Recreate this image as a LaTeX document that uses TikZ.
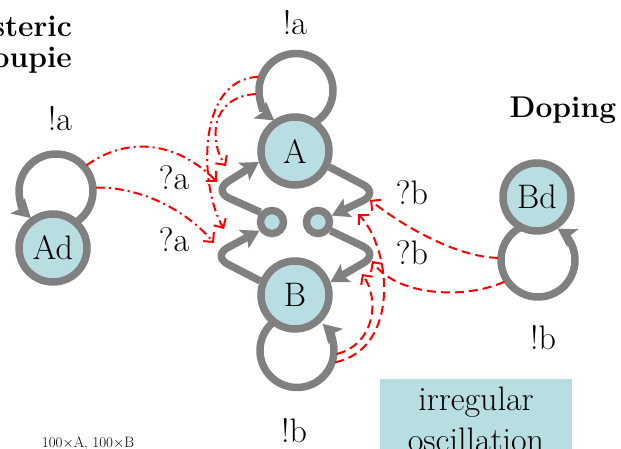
\documentclass[tikz,border=0pt]{standalone}
\usetikzlibrary{arrows.meta}
\definecolor{lblue}{RGB}{184,222,226}
\definecolor{egray}{RGB}{128,128,128}
\begin{document}
\begin{tikzpicture}[x=1pt,y=1pt,
  lbl/.style={font=\fontsize{34}{40}\selectfont, inner sep=0pt, anchor=base},
  head/.style={font=\bfseries\fontsize{30}{36}\selectfont, inner sep=0pt},
  state/.style={circle, draw=egray, fill=lblue, line width=7.5pt, minimum size=68pt, inner sep=0pt, font=\fontsize{34}{40}\selectfont},
  dotnode/.style={circle, draw=egray, fill=lblue, line width=7.5pt, minimum size=23pt, inner sep=0pt},
  trans/.style={draw=egray, line width=7.5pt, -{Stealth[length=18pt,width=21pt,inset=4pt,line width=0pt]}},
  syncA/.style={draw=red, line width=2pt, dash pattern=on 9pt off 4pt on 2pt off 4pt, -{Straight Barb[length=7pt,width=14pt]}},
  syncB/.style={draw=red, line width=2pt, dash pattern=on 9pt off 5pt, -{Straight Barb[length=7pt,width=14pt]}},
]
\useasboundingbox (0,0) rectangle (621,449);
\clip (0,0) rectangle (621,449);

% box
\fill[lblue] (380,0) rectangle (572,70);
\node[lbl] (t1) at (476,38) {irregular};
\node[lbl] (t2) at (476,-3) {oscillation};

% loop centres
\coordinate (LA) at (296,358.5);
\coordinate (LB) at (297,98.5);
\coordinate (LAd) at (56,258);
\coordinate (LBd) at (538,189);

% self loops
\draw[trans] ([shift={(-60:37pt)}]LA) arc[start angle=-60, end angle=234, radius=37pt];
\draw[trans] ([shift={(-58:37pt)}]LAd) arc[start angle=-58, end angle=227, radius=37pt];
\draw[trans] ([shift={(125:37pt)}]LB) arc[start angle=125, end angle=406, radius=37pt];
\draw[trans] ([shift={(117:37pt)}]LBd) arc[start angle=117, end angle=418, radius=37pt];

% nodes
\node[state] (A) at (295,298) {A};
\node[state] (B) at (295,154) {B};
\node[state] (Ad) at (53,201) {Ad};
\node[state] (Bd) at (537,252) {Bd};
\node[dotnode] (sL) at (272,227) {};
\node[dotnode] (sR) at (318,227) {};

% transitions
\draw[trans, rounded corners=18pt] (sL.140) -- (213,258) -- (A.197);
\draw[trans, rounded corners=18pt] (B.158) -- (212,193) -- (sL.215);
\draw[trans, rounded corners=18pt] (A.-25) -- (379,256) -- (sR.25);
\draw[trans, rounded corners=18pt] (sR.-35) -- (379,195) -- (B.20);

% synchronisation tips
\coordinate (tL1) at (226,283);
\coordinate (tL2) at (224,220);
\coordinate (tL3) at (217,267);
\coordinate (tL4) at (214,206);
\coordinate (tR1) at (370,249);
\coordinate (tR2) at (372,188);
\coordinate (tR3) at (362,175);
\coordinate (tR4) at (358,235);

\draw[syncA] ([shift={(160:40pt)}]LA) .. controls (195,370) and (200,260) .. (tL2);
\draw[syncA] ([shift={(185:40pt)}]LA) .. controls (208,352) and (210,305) .. (tL1);
\draw[syncA] ([shift={(40:40pt)}]LAd) .. controls (130,315) and (180,305) .. (tL3);
\draw[syncA] ([shift={(5:40pt)}]LAd) .. controls (140,262) and (185,240) .. (tL4);
\draw[syncB] ([shift={(177:40pt)}]LBd) .. controls (455,192) and (400,225) .. (tR1);
\draw[syncB] ([shift={(213:40pt)}]LBd) .. controls (460,148) and (395,155) .. (tR2);
\draw[syncB] ([shift={(-5:40pt)}]LB) .. controls (375,105) and (380,150) .. (tR3);
\draw[syncB] ([shift={(-17:40pt)}]LB) .. controls (400,100) and (392,200) .. (tR4);

% labels
\node[lbl] (la1) at (295,414) {!a};
\node[lbl] (la2) at (60,318) {!a};
\node[lbl] (qa1) at (174,259) {?a};
\node[lbl] (qa2) at (174,197) {?a};
\node[lbl] (qb1) at (412,244) {?b};
\node[lbl] (qb2) at (412,184) {?b};
\node[lbl] (lb1) at (294,6) {!b};
\node[lbl] (lb2) at (543,99) {!b};
\node[head, anchor=base] (dop) at (563,331) {Doping};
\node[head, anchor=base east] (hy1) at (72,412) {Hysteric};
\node[head, anchor=base east] (hy2) at (72,381) {groupie};
\node[anchor=base, inner sep=0pt, font=\fontsize{15}{18}\selectfont] (cnt) at (88,1) {100$\times$A, 100$\times$B};
\end{tikzpicture}
\end{document}
